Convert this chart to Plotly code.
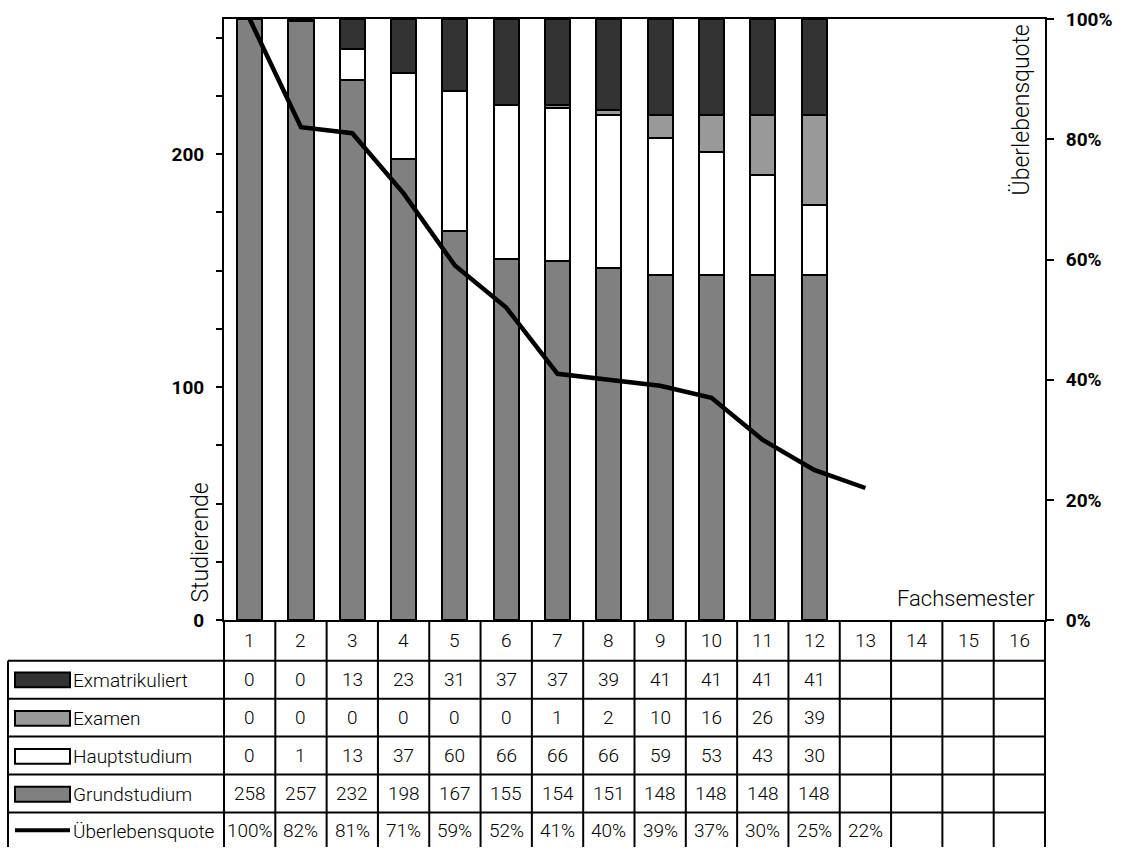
import plotly.graph_objects as go

# ---------------- data ----------------
semester = list(range(1, 17))
exmatrikuliert = [0, 0, 13, 23, 31, 37, 37, 39, 41, 41, 41, 41]
examen = [0, 0, 0, 0, 0, 0, 1, 2, 10, 16, 26, 39]
hauptstudium = [0, 1, 13, 37, 60, 66, 66, 66, 59, 53, 43, 30]
grundstudium = [258, 257, 232, 198, 167, 155, 154, 151, 148, 148, 148, 148]
quote = [100, 82, 81, 71, 59, 52, 41, 40, 39, 37, 30, 25, 22]  # percent

left_ticks = list(range(0, 251, 25))
left_labels = ["0", "", "", "", "100", "", "", "", "200", "", ""]
right_ticks = [0, 20, 40, 60, 80, 100]

# ---------------- layout constants ----------------
W, H = 1125, 859
ML, MR, MT, MB = 224, 80, 19, 0
PW = W - ML - MR
PH = H - MT - MB
AXIS_BOTTOM_PX = 629
DOM0 = (H - AXIS_BOTTOM_PX) / PH

FONT = "Roboto, Liberation Sans, Arial, sans-serif"
C_GRUND = "#808080"
C_HAUPT = "#ffffff"
C_EXAM = "#999999"
C_EXMA = "#333333"


def py(px):  # pixel row -> paper y
    return (H - px) / PH


def pxx(px):  # pixel column -> paper x
    return (px - ML) / PW


fig = go.Figure()
n = len(grundstudium)
for name, vals, col in [
    ("Grundstudium", grundstudium, C_GRUND),
    ("Hauptstudium", hauptstudium, C_HAUPT),
    ("Examen", examen, C_EXAM),
    ("Exmatrikuliert", exmatrikuliert, C_EXMA),
]:
    fig.add_trace(go.Bar(
        x=semester[:n], y=vals, name=name, width=0.49,
        marker=dict(color=col, line=dict(color="black", width=2)),
        showlegend=False,
    ))

fig.add_trace(go.Scatter(
    x=semester[:len(quote)], y=quote, yaxis="y2", mode="lines",
    line=dict(color="black", width=4.5), name="Überlebensquote",
    showlegend=False, cliponaxis=False,
))

# ---------------- table ----------------
row_bounds_px = [670, 708.5, 747, 785.5, 824]
row_centers_px = [689, 728, 766.5, 805, 842]
header_center_px = 649.5
rows = [
    ("Exmatrikuliert", [str(v) for v in exmatrikuliert], C_EXMA, "box"),
    ("Examen", [str(v) for v in examen], C_EXAM, "box"),
    ("Hauptstudium", [str(v) for v in hauptstudium], C_HAUPT, "box"),
    ("Grundstudium", [str(v) for v in grundstudium], C_GRUND, "box"),
    ("Überlebensquote", [f"{v}%" for v in quote], None, "line"),
]

shapes = []
LINE = dict(color="black", width=2)
x_left_px = 8
# vertical inner lines at category boundaries
for b in semester[:-1]:
    shapes.append(dict(type="line", xref="x", yref="paper", x0=b + 0.5, x1=b + 0.5,
                       y0=0, y1=DOM0, line=LINE))
# outer verticals
shapes.append(dict(type="line", xref="paper", yref="paper", x0=0, x1=0, y0=0, y1=DOM0, line=LINE))
shapes.append(dict(type="line", xref="paper", yref="paper", x0=1, x1=1, y0=0, y1=DOM0, line=LINE))
shapes.append(dict(type="line", xref="paper", yref="paper", x0=pxx(x_left_px), x1=pxx(x_left_px),
                   y0=0, y1=py(row_bounds_px[0]), line=LINE))
# horizontals
for b in row_bounds_px:
    shapes.append(dict(type="line", xref="paper", yref="paper", x0=pxx(x_left_px), x1=1,
                       y0=py(b), y1=py(b), line=LINE))

annotations = []
TFONT = dict(family=FONT, size=19, color="black", weight=300)
for s in semester:
    annotations.append(dict(x=s, y=py(header_center_px), xref="x", yref="paper", text=str(s),
                            showarrow=False, font=TFONT, xanchor="center", yanchor="middle"))

for (label, vals, col, kind), cy in zip(rows, row_centers_px):
    for s, v in zip(semester, vals):
        annotations.append(dict(x=s, y=py(cy), xref="x", yref="paper", text=v,
                                showarrow=False, font=TFONT, xanchor="center", yanchor="middle"))
    annotations.append(dict(x=pxx(71), y=py(cy + 1), xref="paper", yref="paper", text=label,
                            showarrow=False, font=TFONT, xanchor="left", yanchor="middle"))
    if kind == "box":
        shapes.append(dict(type="rect", xref="paper", yref="paper",
                           x0=pxx(15), x1=pxx(70), y0=py(cy - 7), y1=py(cy + 8),
                           fillcolor=col, line=dict(color="black", width=2)))
    else:
        shapes.append(dict(type="line", xref="paper", yref="paper",
                           x0=pxx(15), x1=pxx(70), y0=py(cy), y1=py(cy),
                           line=dict(color="black", width=4)))

# axis titles
annotations.append(dict(x=pxx(201), y=py(613), xref="paper", yref="paper", text="Studierende",
                        textangle=-90, showarrow=False,
                        font=dict(family=FONT, size=23, color="black", weight=300),
                        xanchor="center", yanchor="bottom"))
annotations.append(dict(x=pxx(1021), y=py(23), xref="paper", yref="paper", text="Überlebensquote",
                        textangle=-90, showarrow=False,
                        font=dict(family=FONT, size=23, color="black", weight=300),
                        xanchor="center", yanchor="top"))
annotations.append(dict(x=pxx(1037), y=py(607), xref="paper", yref="paper", text="Fachsemester",
                        showarrow=False, font=dict(family=FONT, size=22, color="black", weight=300),
                        xanchor="right", yanchor="middle"))

BFONT = dict(family=FONT, size=19, color="black", weight="bold")
fig.update_layout(
    width=W, height=H,
    margin=dict(l=ML, r=MR, t=MT, b=MB, pad=0),
    paper_bgcolor="white", plot_bgcolor="white",
    barmode="stack", bargap=0,
    xaxis=dict(range=[0.5, 16.5], showgrid=False, zeroline=False, showline=True,
               linecolor="black", linewidth=2, mirror=True, ticks="", showticklabels=False,
               fixedrange=True),
    yaxis=dict(domain=[DOM0, 1], range=[0, 258], showgrid=False, zeroline=False,
               showline=True, linecolor="black", linewidth=2,
               tickvals=left_ticks, ticktext=left_labels, ticks="outside", ticklen=6,
               tickwidth=2, tickcolor="black", tickfont=BFONT, ticklabelstandoff=8),
    yaxis2=dict(overlaying="y", side="right", anchor="x", range=[0, 100], showgrid=False,
                zeroline=False, showline=True, linecolor="black", linewidth=2,
                tickvals=right_ticks, ticktext=[f"{v}%" for v in right_ticks],
                ticks="outside", ticklen=7, tickwidth=2, tickcolor="black",
                tickfont=BFONT, ticklabelstandoff=8),
    shapes=shapes, annotations=annotations,
)

fig.write_html("out.html")
